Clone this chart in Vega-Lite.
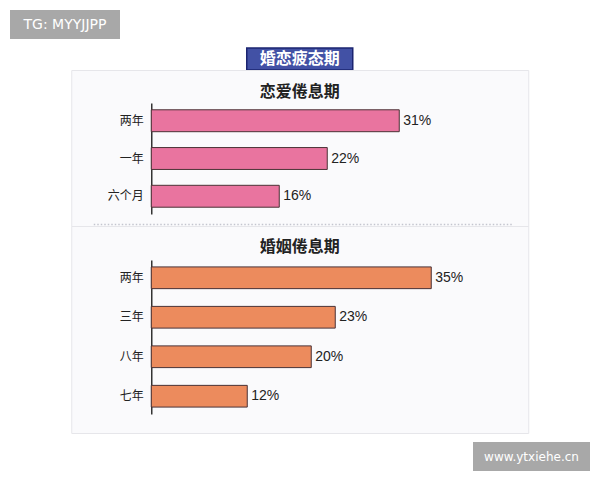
{
  "$schema": "https://vega.github.io/schema/vega-lite/v6.json",
  "background": "white",
  "padding": {"left": 10, "top": 10, "right": 10, "bottom": 11},
  "spacing": 8,
  "center": true,
  "config": {
    "view": {"stroke": null},
    "font": "Noto Sans CJK SC"
  },
  "vconcat": [
    {
      "spacing": 0,
      "bounds": "flush",
      "hconcat": [
        {
          "width": 110,
          "height": 29,
          "view": {"fill": "#a8a8a8"},
          "data": {"values": [{"tag": "TG: MYYJJPP"}]},
          "mark": {"type": "text", "color": "white", "font": "DejaVu Sans", "fontSize": 14},
          "encoding": {"text": {"field": "tag"}}
        },
        {"width": 470, "height": 29, "data": {"values": []}, "mark": "point"}
      ]
    },
    {
      "spacing": 0,
      "bounds": "flush",
      "center": true,
      "vconcat": [
        {
          "width": 106,
          "height": 22,
          "view": {"fill": "#4251a5", "stroke": "#1b2470", "strokeWidth": 1.5},
          "data": {"values": [{"heading": "婚恋疲态期"}]},
          "mark": {"type": "text", "color": "white", "fontSize": 16, "fontWeight": "bold", "font": "Noto Sans CJK SC"},
          "encoding": {"text": {"field": "heading"}}
        },
        {
          "width": 457,
          "height": 156,
          "view": {"fill": "#fafafc", "stroke": "#e6e6ea"},
          "title": {
            "text": "恋爱倦息期",
            "offset": -38,
            "baseline": "middle",
            "anchor": "middle",
            "frame": "group",
            "fontSize": 16,
            "fontWeight": "bold",
            "color": "#222222",
            "font": "Noto Sans CJK SC"
          },
          "data": {
            "values": [
              {"period": "两年", "share": 0.31},
              {"period": "一年", "share": 0.22},
              {"period": "六个月", "share": 0.16}
            ]
          },
          "encoding": {
            "y": {
              "field": "period",
              "type": "nominal",
              "sort": null,
              "scale": {"range": [33, 144], "paddingInner": 0.42, "paddingOuter": 0.18},
              "axis": {
                "title": null,
                "offset": -80,
                "ticks": false,
                "domainColor": "#333333",
                "domainWidth": 1.5,
                "labelPadding": 8,
                "labelFont": "Noto Sans CJK SC",
                "labelFontSize": 12,
                "labelColor": "#222222"
              }
            },
            "x": {
              "field": "share",
              "type": "quantitative",
              "scale": {"domain": [-0.0725, 0.45], "range": [22, 440], "nice": false},
              "axis": {
                "orient": "bottom",
                "offset": -2,
                "title": null,
                "grid": false,
                "ticks": false,
                "labels": false,
                "domainDash": [1.5, 2],
                "domainColor": "#c4c5ce",
                "domainWidth": 1.5
              }
            }
          },
          "layer": [
            {"mark": {"type": "bar", "fill": "#e9749f", "stroke": "#4a3236", "strokeWidth": 1}},
            {
              "mark": {"type": "text", "align": "left", "baseline": "middle", "dx": 4, "font": "Liberation Sans", "fontSize": 14, "color": "#222222"},
              "encoding": {"text": {"field": "share", "type": "quantitative", "format": ".0%"}}
            }
          ]
        },
        {
          "width": 457,
          "height": 207,
          "view": {"fill": "#fafafc", "stroke": "#e6e6ea"},
          "title": {
            "text": "婚姻倦息期",
            "offset": -37,
            "baseline": "middle",
            "anchor": "middle",
            "frame": "group",
            "fontSize": 16,
            "fontWeight": "bold",
            "color": "#222222",
            "font": "Noto Sans CJK SC"
          },
          "data": {
            "values": [
              {"period": "两年", "share": 0.35},
              {"period": "三年", "share": 0.23},
              {"period": "八年", "share": 0.20},
              {"period": "七年", "share": 0.12}
            ]
          },
          "encoding": {
            "y": {
              "field": "period",
              "type": "nominal",
              "sort": null,
              "scale": {"range": [34, 188], "paddingInner": 0.45, "paddingOuter": 0.175},
              "axis": {
                "title": null,
                "offset": -80,
                "ticks": false,
                "domainColor": "#333333",
                "domainWidth": 1.5,
                "labelPadding": 8,
                "labelFont": "Noto Sans CJK SC",
                "labelFontSize": 12,
                "labelColor": "#222222"
              }
            },
            "x": {
              "field": "share",
              "type": "quantitative",
              "scale": {"domain": [-0.0725, 0.45], "range": [22, 440], "nice": false},
              "axis": null
            }
          },
          "layer": [
            {"mark": {"type": "bar", "fill": "#ec8b5d", "stroke": "#4a3236", "strokeWidth": 1}},
            {
              "mark": {"type": "text", "align": "left", "baseline": "middle", "dx": 4, "font": "Liberation Sans", "fontSize": 14, "color": "#222222"},
              "encoding": {"text": {"field": "share", "type": "quantitative", "format": ".0%"}}
            }
          ]
        }
      ]
    },
    {
      "spacing": 0,
      "bounds": "flush",
      "hconcat": [
        {"width": 463, "height": 29, "data": {"values": []}, "mark": "point"},
        {
          "width": 117,
          "height": 29,
          "view": {"fill": "#a8a8a8"},
          "data": {"values": [{"tag": "www.ytxiehe.cn"}]},
          "mark": {"type": "text", "color": "white", "font": "DejaVu Sans", "fontSize": 12},
          "encoding": {"text": {"field": "tag"}}
        }
      ]
    }
  ]
}
